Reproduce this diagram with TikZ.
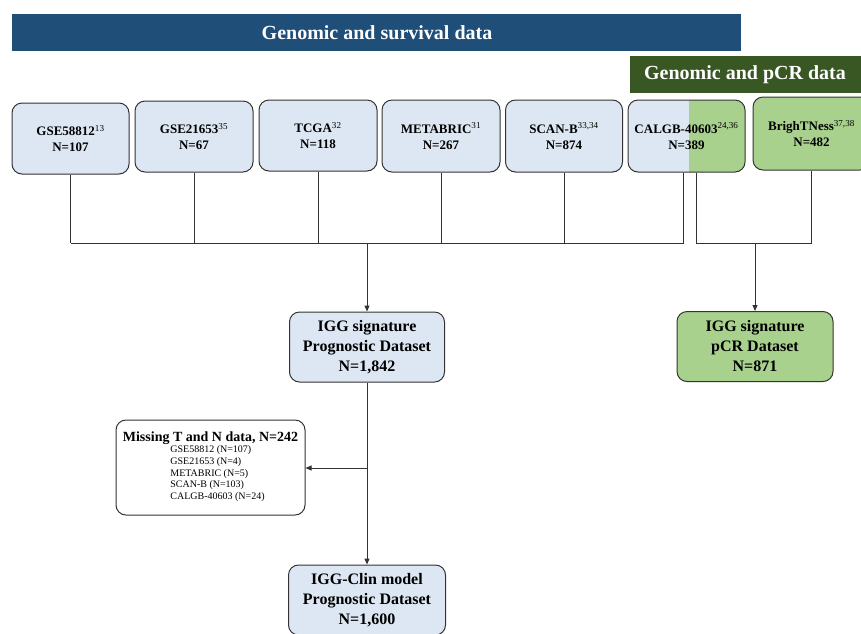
\documentclass[tikz,border=0pt]{standalone}
\usepackage{fontspec}
\setmainfont{Liberation Serif}
\usetikzlibrary{arrows.meta}

\definecolor{survblue}{HTML}{1F4E79}
\definecolor{pcrdark}{HTML}{385723}
\definecolor{setblue}{HTML}{DDE7F3}
\definecolor{setgreen}{HTML}{A9D18E}

\tikzset{
  dataset/.style={draw=black!80, line width=1pt, rounded corners=10pt, fill=setblue,
    align=center, inner sep=2pt, font=\fontsize{13}{16}\selectfont\bfseries},
  result/.style={dataset, font=\fontsize{16}{20}\selectfont\bfseries},
  banner/.style={inner sep=0pt, text=white, font=\fontsize{20}{24}\selectfont\bfseries},
  link/.style={draw=black!80, line width=1pt},
  arrow/.style={link, -{Triangle[length=6pt,width=5pt]}}
}
\newcommand{\refs}[1]{\textsuperscript{\mdseries #1}}

\begin{document}
\begin{tikzpicture}[x=1pt, y=-1pt]
  \clip (0,0) rectangle (861,633);
  \fill[white] (0,0) rectangle (861,633);

  % Banners
  \fill[survblue] (12,14) rectangle (741,51);
  \node[banner] (survtitle) at (377,33) {Genomic and survival data};
  \fill[pcrdark] (630,56) rectangle (870,93);
  \node[banner] (pcrtitle) at (745,75) {Genomic and pCR data};

  % Cohorts
  \node[dataset, minimum width=117pt, minimum height=71pt] (gse1) at (70.5,138.5) {GSE58812\refs{13}\\N=107};
  \node[dataset, minimum width=118pt, minimum height=71pt] (gse2) at (194,136.5) {GSE21653\refs{35}\\N=67};
  \node[dataset, minimum width=118pt, minimum height=71pt] (tcga) at (318,135.5) {TCGA\refs{32}\\N=118};
  \node[dataset, minimum width=118pt, minimum height=72pt] (metabric) at (441,136) {METABRIC\refs{31}\\N=267};
  \node[dataset, minimum width=117pt, minimum height=72pt] (scanb) at (564,136) {SCAN-B\refs{33,34}\\N=874};
  \node[dataset, minimum width=117pt, minimum height=72pt,
    path picture={\fill[setgreen, sharp corners] ([xshift=2.5pt]path picture bounding box.north)
      rectangle (path picture bounding box.south east);}] (calgb) at (686.5,136) {CALGB-40603\refs{24,36}\\N=389};
  \node[dataset, fill=setgreen, minimum width=117pt, minimum height=73pt] (bright) at (811.5,133.5) {BrighTNess\refs{37,38}\\N=482};

  % Derived datasets
  \node[result, minimum width=155pt, minimum height=70pt] (prog) at (367,347) {IGG signature\\Prognostic Dataset\\N=1,842};
  \node[result, fill=setgreen, minimum width=156pt, minimum height=70pt] (pcr) at (755,346.5) {IGG signature\\pCR Dataset\\N=871};
  \node[result, minimum width=157pt, minimum height=70pt] (clin) at (367,600) {IGG-Clin model\\Prognostic Dataset\\N=1,600};
  \node[dataset, fill=white, minimum width=189pt, minimum height=95pt, inner sep=4pt] (missing) at (210.5,467.5)
    {\fontsize{14}{17}\selectfont Missing T and N data, N=242\\[-1pt]
     \fontsize{10}{11.7}\selectfont\mdseries\hspace*{14pt}%
     \begin{tabular}{@{}l@{}}
       GSE58812 (N=107)\\
       GSE21653 (N=4)\\
       METABRIC (N=5)\\
       SCAN-B (N=103)\\
       CALGB-40603 (N=24)
     \end{tabular}};

  % Connectors
  \coordinate (bar) at (0,243);
  \coordinate (tap) at (367,468);
  \foreach \src in {gse1,gse2,tcga,metabric,scanb}
    \draw[link] (\src.south) -- (\src.south |- bar);
  \draw[link] ([xshift=-3.5pt]calgb.south) -- ([xshift=-3.5pt]calgb.south |- bar) -- (gse1.south |- bar);
  \draw[link] ([xshift=9.5pt]calgb.south) -- ([xshift=9.5pt]calgb.south |- bar) -- (bright.south |- bar) -- (bright.south);
  \draw[arrow] (prog.north |- bar) -- (prog);
  \draw[arrow] (pcr.north |- bar) -- (pcr);
  \draw[arrow] (prog) -- (clin);
  \draw[arrow] (tap) -- (missing.east |- tap);
\end{tikzpicture}
\end{document}
